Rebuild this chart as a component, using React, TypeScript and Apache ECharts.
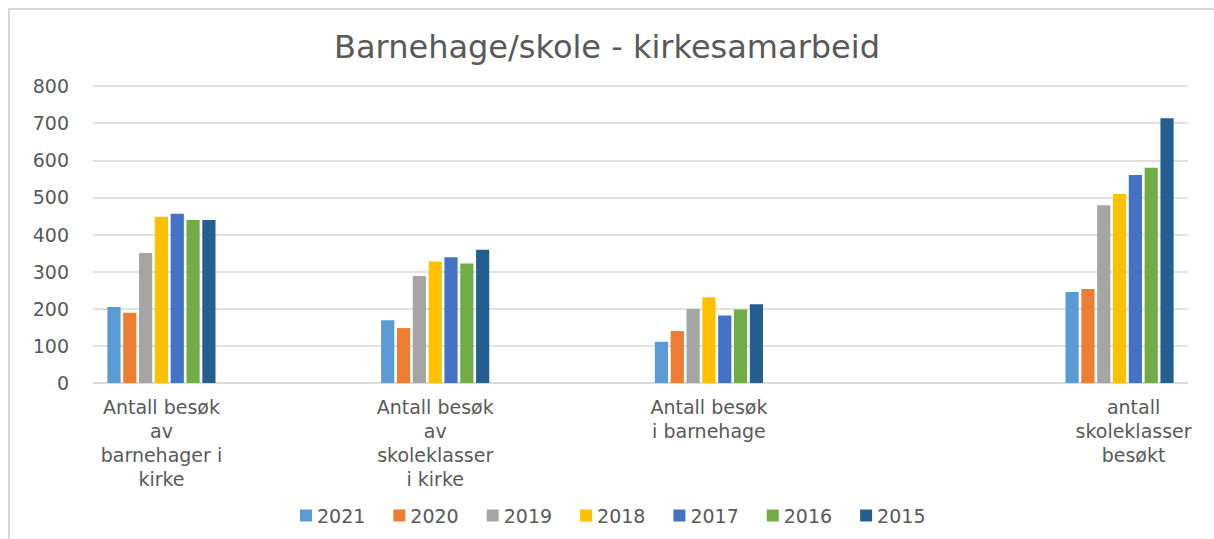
import React, { useEffect, useRef } from "react";
import * as echarts from "echarts";

const categories = [
  "Antall besøk\nav\nbarnehager i\nkirke",
  "Antall besøk\nav\nskoleklasser\ni kirke",
  "Antall besøk\ni barnehage",
  "antall\nskoleklasser\nbesøkt",
];
// slot of each category on an 8-slot axis (the reference spaces them unevenly)
const categorySlots = [0, 2, 4, 7];
const slotCount = 8;

const years = ["2021", "2020", "2019", "2018", "2017", "2016", "2015"];
const v2021 = [205, 169, 111, 245];
const v2020 = [189, 148, 140, 253];
const v2019 = [350, 288, 199, 479];
const v2018 = [448, 327, 231, 509];
const v2017 = [456, 339, 182, 560];
const v2016 = [439, 322, 198, 580];
const v2015 = [439, 359, 212, 713];
const seriesValues = [v2021, v2020, v2019, v2018, v2017, v2016, v2015];
const colors = ["#5B9BD5", "#ED7D31", "#A5A5A5", "#FFC000", "#4472C4", "#70AD47", "#255E91"];
const yTicks = { min: 0, max: 800, interval: 100 };

export default function App() {
  const ref = useRef<HTMLDivElement>(null);
  useEffect(() => {
    if (!ref.current) return;
    const chart = echarts.init(ref.current, null, { renderer: "svg" });
    const axisData: any[] = [];
    for (let i = 0; i < slotCount; i++) axisData.push("");
    categorySlots.forEach((s, i) => {
      axisData[s] =
        i === 3
          ? { value: categories[i], textStyle: { padding: [0, 0, 0, 28] } }
          : categories[i];
    });
    const font = "DejaVu Sans";
    chart.setOption({
      animation: false,
      color: colors,
      textStyle: { fontFamily: font },
      title: {
        text: "Barnehage/skole - kirkesamarbeid",
        left: "center",
        top: 26,
        textStyle: { fontFamily: font, fontSize: 32, fontWeight: "normal", color: "#595959" },
      },
      graphic: [
        {
          type: "polyline",
          shape: { points: [[9, 539], [9, 9], [1214, 9]] },
          style: { stroke: "#D9D9D9", lineWidth: 2, fill: null },
          silent: true,
        },
      ],
      legend: {
        bottom: 9,
        left: 295,
        itemWidth: 12,
        itemHeight: 12,
        itemGap: 28,
        icon: "rect",
        textStyle: { fontFamily: font, fontSize: 19, color: "#595959" },
        data: years,
      },
      grid: { left: 93, right: 26, top: 86, bottom: 156 },
      xAxis: {
        type: "category",
        data: axisData,
        axisLine: { lineStyle: { color: "#D9D9D9", width: 1.5 } },
        axisTick: { show: false },
        axisLabel: {
          interval: 0,
          color: "#595959",
          fontFamily: font,
          fontSize: 19,
          lineHeight: 24,
          margin: 12,
        },
      },
      yAxis: {
        type: "value",
        min: yTicks.min,
        max: yTicks.max,
        interval: yTicks.interval,
        axisLine: { show: false },
        axisTick: { show: false },
        splitLine: { lineStyle: { color: "#D9D9D9", width: 1.5 } },
        axisLabel: { color: "#595959", fontFamily: font, fontSize: 19, margin: 24 },
      },
      series: years.map((y, k) => {
        const data: (number | null)[] = [];
        for (let i = 0; i < slotCount; i++) data.push(null);
        categorySlots.forEach((s, i) => {
          data[s] = seriesValues[k][i];
        });
        return {
          name: y,
          type: "bar",
          data,
          barGap: "20%",
          barCategoryGap: "21%",
        };
      }),
    });
    return () => chart.dispose();
  }, []);
  return (
    <div
      ref={ref}
      style={{ position: "absolute", left: 0, top: 0, width: 1214, height: 539, background: "#fff" }}
    />
  );
}
